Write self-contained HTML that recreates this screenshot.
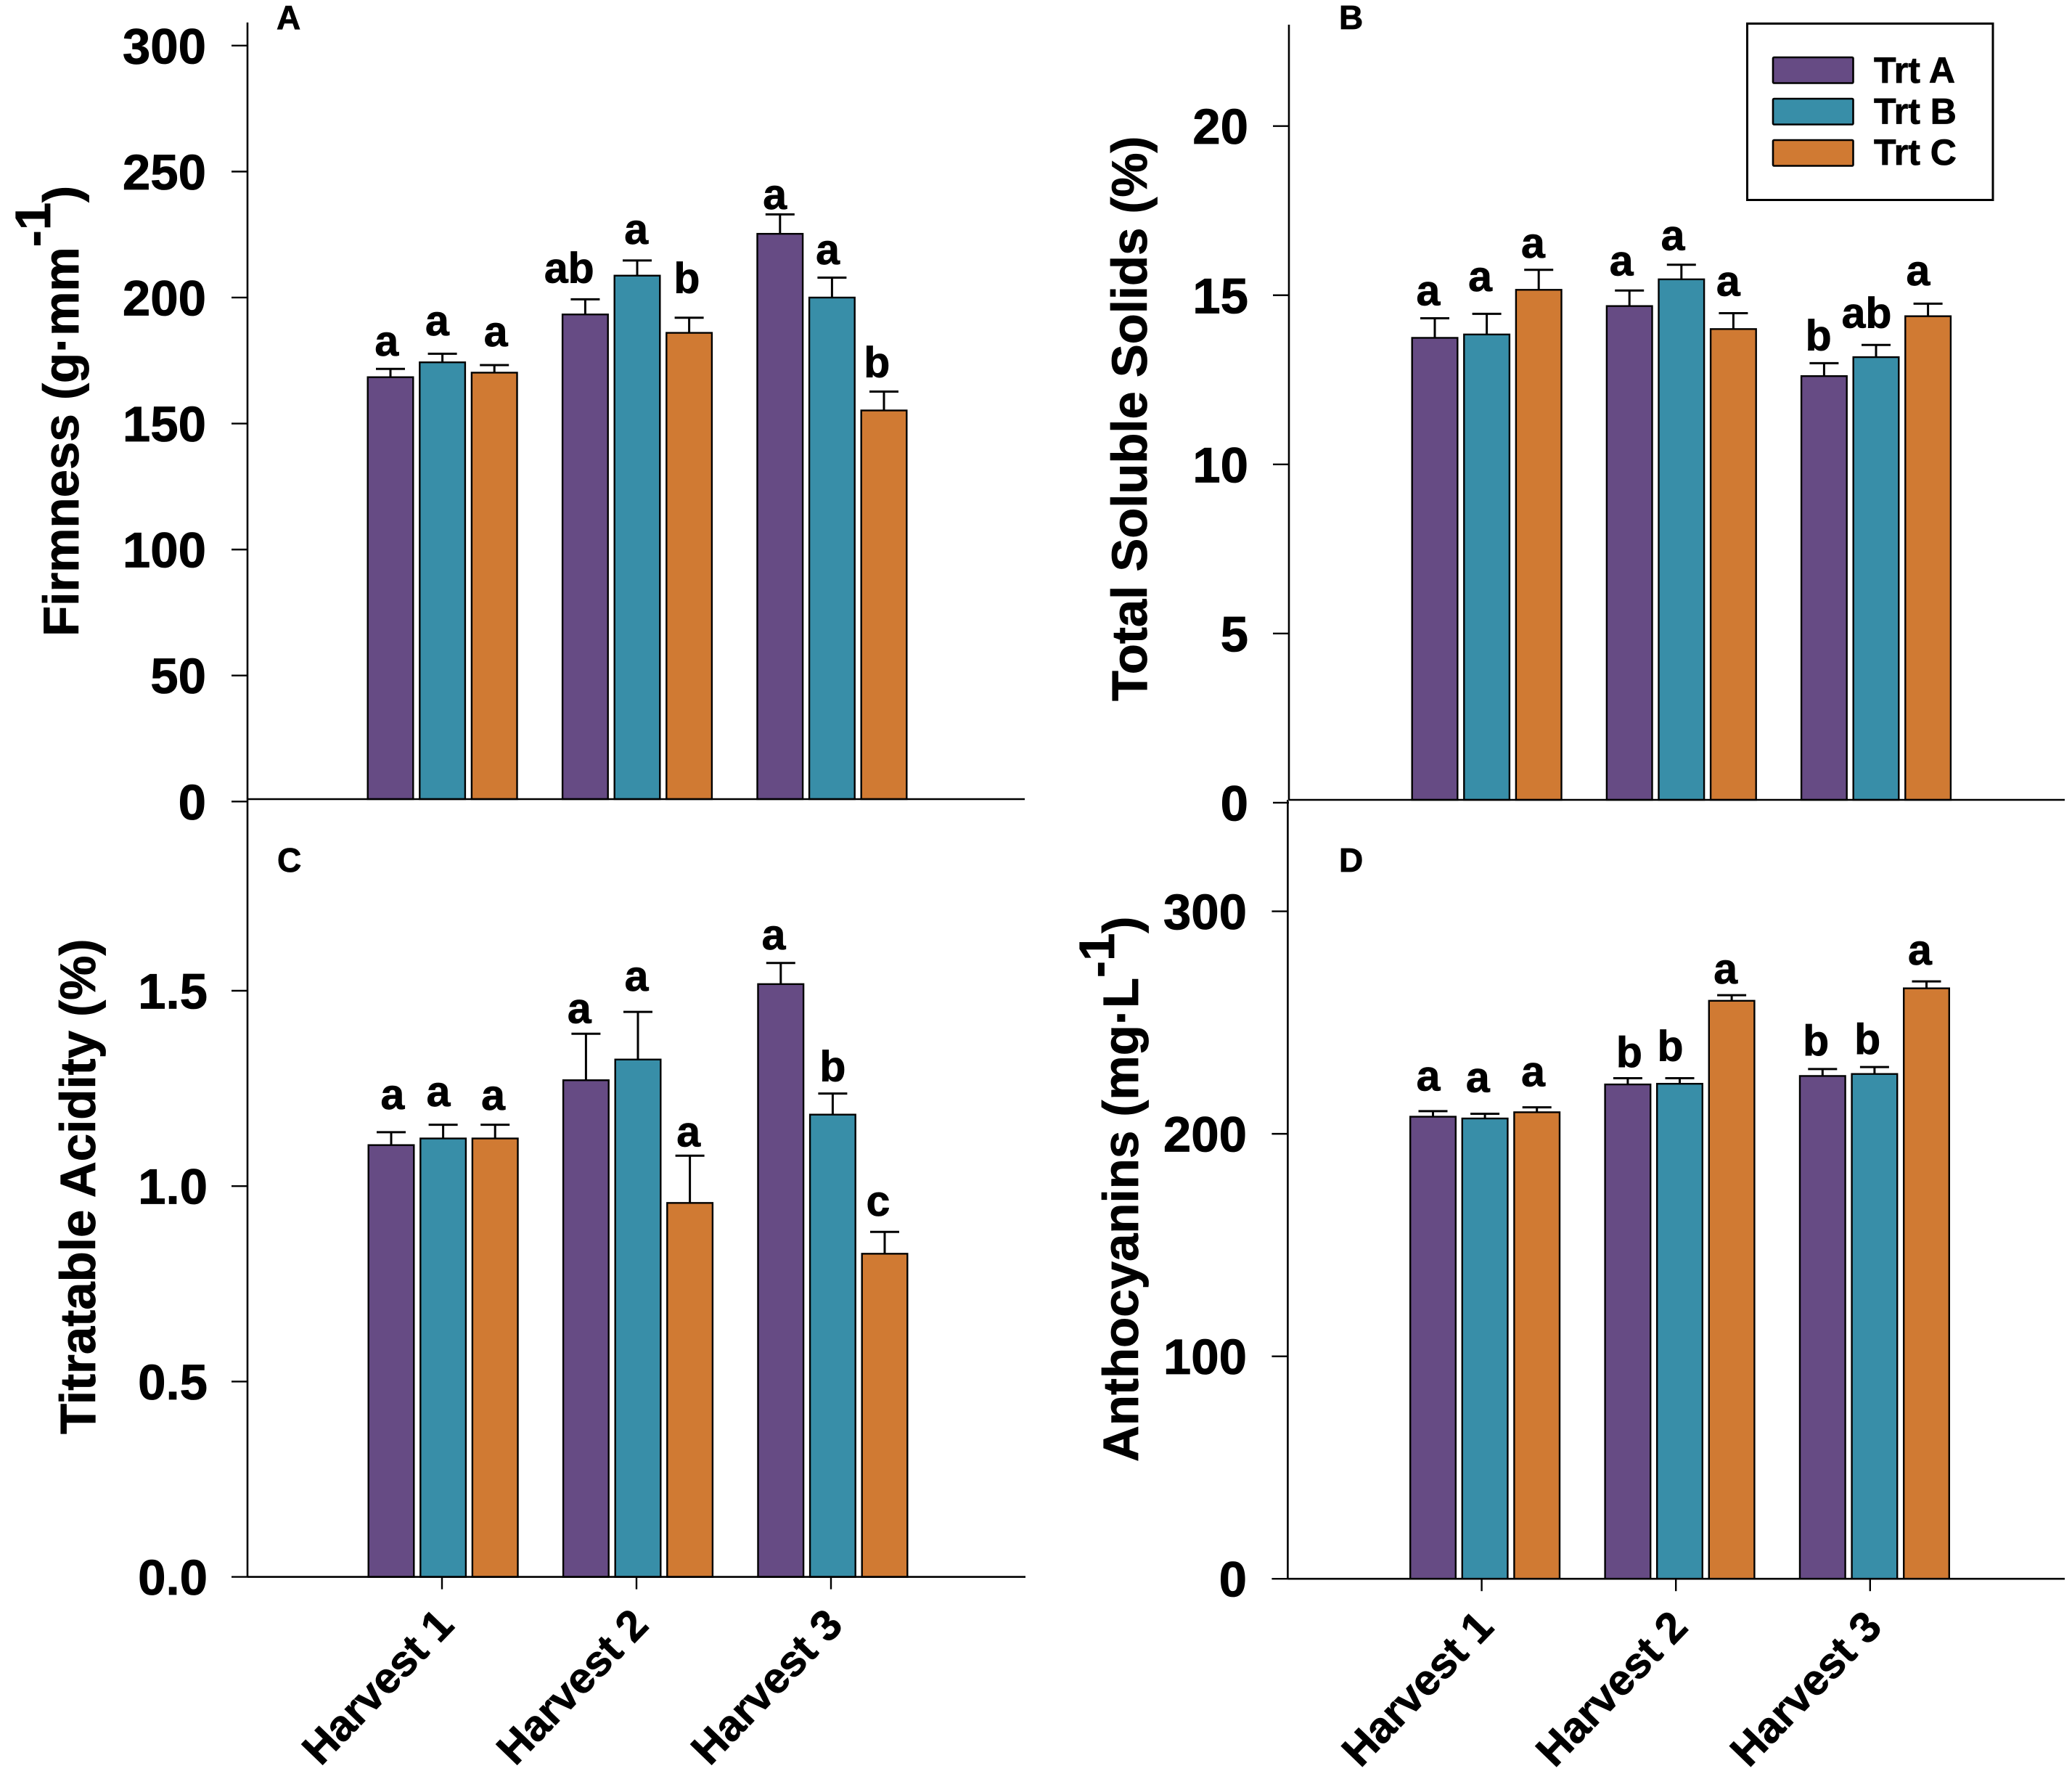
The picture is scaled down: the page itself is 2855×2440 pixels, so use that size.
<!DOCTYPE html>
<html lang="en">
<head>
<meta charset="utf-8">
<title>Fruit quality by harvest and treatment</title>
<style>
html,body{margin:0;padding:0;background:#fff;}
svg{display:block;font-family:"Liberation Sans",Arial,sans-serif;font-weight:bold;fill:#000;}
text{stroke:#000;stroke-width:0.8px;}
</style>
</head>
<body>
<svg id="chart" xmlns="http://www.w3.org/2000/svg" width="2855" height="2440" viewBox="0 0 2855 2440"></svg>
<script>
// ---- shared categories ----
const categories = ['Harvest 1', 'Harvest 2', 'Harvest 3'];
const treatments = ['Trt A', 'Trt B', 'Trt C'];

// ---- panel A: firmness ----
const firmnessTicks = [0, 50, 100, 150, 200, 250, 300];
const firmnessTrtA = [168.4, 193.3, 225.3];
const firmnessTrtB = [174.3, 208.7, 200];
const firmnessTrtC = [170.2, 186, 155.2];
const firmnessErrA = [3.3, 6, 7.7];
const firmnessErrB = [3.4, 6, 7.9];
const firmnessErrC = [3, 6, 7.5];
const firmnessLetterOrder = ['a', 'a', 'a', 'ab', 'a', 'b', 'a', 'a', 'b'];
const firmnessLetterLift = [5.3, 7.3, 7.5, 6.6, 6.6, 9.9, 2.2, 5.3, 5.7];
const firmnessLetterShift = [-0.08, -0.11, 0.03, -0.34, -0.02, -0.05, -0.11, -0.09, -0.15];

// ---- panel B: total soluble solids ----
const solidsTicks = [0, 5, 10, 15, 20];
const solidsTrtA = [13.74, 14.68, 12.61];
const solidsTrtB = [13.84, 15.47, 13.17];
const solidsTrtC = [15.16, 14.0, 14.38];
const solidsErrA = [0.58, 0.46, 0.38];
const solidsErrB = [0.61, 0.43, 0.36];
const solidsErrC = [0.59, 0.47, 0.37];
const solidsLetterOrder = ['a', 'a', 'a', 'a', 'a', 'a', 'b', 'ab', 'a'];
const solidsLetterLift = [0.39, 0.67, 0.36, 0.44, 0.44, 0.51, 0.39, 0.51, 0.54];
const solidsLetterShift = [-0.14, -0.14, -0.12, -0.17, -0.18, -0.11, -0.12, -0.2, -0.21];

// ---- panel C: titratable acidity ----
const acidityTicks = ['0.0', '0.5', '1.0', '1.5'];
const acidityTrtA = [1.105, 1.271, 1.517];
const acidityTrtB = [1.122, 1.324, 1.183];
const acidityTrtC = [1.122, 0.957, 0.827];
const acidityErrA = [0.033, 0.119, 0.054];
const acidityErrB = [0.035, 0.122, 0.054];
const acidityErrC = [0.035, 0.121, 0.056];
const acidityLetterOrder = ['a', 'a', 'a', 'a', 'a', 'a', 'a', 'b', 'c'];
const acidityLetterLift = [0.059, 0.048, 0.038, 0.027, 0.054, 0.024, 0.035, 0.032, 0.041];
const acidityLetterShift = [0.03, -0.1, -0.04, -0.14, -0.03, -0.03, -0.15, 0, -0.14];

// ---- panel D: anthocyanins ----
const anthoTicks = [0, 100, 200, 300];
const anthoTrtA = [207.7, 222.2, 226];
const anthoTrtB = [206.9, 222.5, 226.9];
const anthoTrtC = [209.7, 259.8, 265.4];
const anthoErrA = [2.5, 2.8, 3.1];
const anthoErrB = [2.1, 2.5, 3.1];
const anthoErrC = [2.2, 2.5, 3.1];
const anthoLetterOrder = ['a', 'a', 'a', 'b', 'b', 'a', 'b', 'b', 'a'];
const anthoLetterLift = [9.2, 9.8, 9.5, 5, 7.8, 5.3, 6.1, 5.9, 7.5];
const anthoLetterShift = [-0.1, -0.15, -0.08, 0.03, -0.2, -0.13, -0.14, -0.15, -0.14];

const svg = document.getElementById('chart');
const NS = 'http://www.w3.org/2000/svg';
const treatmentColors = ['#664B84', '#388EA8', '#D07A33'];

function mk(tag, attrs, parent) {
  const el = document.createElementNS(NS, tag);
  for (const k in attrs) el.setAttribute(k, attrs[k]);
  (parent || svg).appendChild(el);
  return el;
}

function drawPanel(p) {
  const y = v => p.zeroY - (Number(v) - p.domain[0]) / (p.domain[1] - p.domain[0]) * (p.zeroY - p.topY);
  const barLeft = (g, s) => p.firstBar + g * p.groupPitch + s * p.barPitch;
  const barWidth = 65;

  const group = mk('g', {});
  
  

  // bars, error bars, letters
  p.series.forEach((vals, s) => {
    vals.forEach((v, g) => {
      const idx = g * 3 + s;
      const cx = barLeft(g, s) + barWidth / 2;

      const bar = mk('rect', {
        x: barLeft(g, s) + 1.2, y: y(v), width: barWidth - 2.4,
        height: Math.max(0, p.baseY - y(v)),
        fill: treatmentColors[s], stroke: '#000', 'stroke-width': 2.4
      }, group);
      
      

      const top = y(v + p.errs[s][g]);
      const stem = mk('line', { x1: cx, x2: cx, y1: y(v), y2: top, stroke: '#000', 'stroke-width': 3 }, group);
      
      

      const cap = mk('line', { x1: cx - 20, x2: cx + 20, y1: top, y2: top, stroke: '#000', 'stroke-width': 3 }, group);
      
      

      const letter = mk('text', {
        x: cx + p.shifts[idx] * barWidth,
        y: y(v + p.errs[s][g] + p.lifts[idx]),
        'text-anchor': 'middle', 'font-size': 59
      }, group);
      letter.textContent = p.letters[idx];
      
      
    });
  });

  // y axis
  const yAxis = mk('line', { x1: p.axisX, x2: p.axisX, y1: p.axisTop, y2: p.axisBottom, stroke: '#000', 'stroke-width': 2.6 }, group);
  
  

  // x axis
  const xAxis = mk('line', { x1: p.axisX, x2: p.axisRight, y1: p.baseY, y2: p.baseY, stroke: '#000', 'stroke-width': 2.6 }, group);
  
  

  // y ticks
  p.ticks.forEach(t => {
    const tick = mk('line', { x1: p.axisX - 22, x2: p.axisX, y1: y(t), y2: y(t), stroke: '#000', 'stroke-width': 2.4 }, group);
    
    

    const label = mk('text', { x: p.tickLabelX, y: y(t) + 24.5, 'text-anchor': 'end', 'font-size': 69 }, group);
    label.textContent = t;
    
    
  });

  // x ticks + labels
  if (p.showX) {
    categories.forEach((c, g) => {
      const tx = p.xTickStart + g * p.xTickPitch;
      const tick = mk('line', { x1: tx, x2: tx, y1: p.baseY, y2: p.baseY + 17, stroke: '#000', 'stroke-width': 2.4 }, group);
      
      

      const lx = tx + 19, ly = p.baseY + 69;
      const label = mk('text', {
        x: lx, y: ly, 'text-anchor': 'end', 'font-size': 59.5,
        transform: 'rotate(-46 ' + lx + ' ' + ly + ')'
      }, group);
      label.textContent = c;
      
      
    });
  }

  // panel letter
  const tag = mk('text', { x: p.tagX, y: p.tagY, 'font-size': 46 }, group);
  tag.textContent = p.id;
  
  

  // axis title
  const title = mk('text', {
    x: p.titleX, y: p.titleY, 'font-size': p.titleSize,
    transform: 'rotate(-90 ' + p.titleX + ' ' + p.titleY + ')'
  }, group);
  
  
  title.appendChild(document.createTextNode(p.title));
  if (p.sup) {
    const sup = mk('tspan', { dy: -p.supRaise }, title);
    sup.textContent = p.sup;
    const close = mk('tspan', { dy: p.supRaise }, title);
    close.textContent = ')';
  }
}

drawPanel({
  id: 'A', ticks: firmnessTicks, domain: [0, 300], zeroY: 1104.3, topY: 62.8, baseY: 1101,
  axisX: 341, axisTop: 31, axisBottom: 1101, axisRight: 1412,
  series: [firmnessTrtA, firmnessTrtB, firmnessTrtC], errs: [firmnessErrA, firmnessErrB, firmnessErrC],
  letters: firmnessLetterOrder, lifts: firmnessLetterLift, shifts: firmnessLetterShift,
  firstBar: 505.5, barPitch: 71.6, groupPitch: 268.4, tickLabelX: 284, showX: false,
  tagX: 381, tagY: 40, title: 'Firmness (g\u00B7mm', sup: '-1', supRaise: 39,
  titleX: 108, titleY: 877, titleSize: 69
});
drawPanel({
  id: 'B', ticks: solidsTicks, domain: [0, 20], zeroY: 1105.9, topY: 173.7, baseY: 1102,
  axisX: 1776, axisTop: 34, axisBottom: 1102, axisRight: 2845,
  series: [solidsTrtA, solidsTrtB, solidsTrtC], errs: [solidsErrA, solidsErrB, solidsErrC],
  letters: solidsLetterOrder, lifts: solidsLetterLift, shifts: solidsLetterShift,
  firstBar: 1944.5, barPitch: 71.6, groupPitch: 268.2, tickLabelX: 1720, showX: false,
  tagX: 1845, tagY: 40, title: 'Total Soluble Solids (%)',
  titleX: 1580, titleY: 966, titleSize: 68.8
});
drawPanel({
  id: 'C', ticks: acidityTicks, domain: [0, 1.5], zeroY: 2172.6, topY: 1365, baseY: 2172.6,
  axisX: 341, axisTop: 1101, axisBottom: 2172.6, axisRight: 1413,
  series: [acidityTrtA, acidityTrtB, acidityTrtC], errs: [acidityErrA, acidityErrB, acidityErrC],
  letters: acidityLetterOrder, lifts: acidityLetterLift, shifts: acidityLetterShift,
  firstBar: 506.5, barPitch: 71.6, groupPitch: 268.4, tickLabelX: 286, showX: true,
  xTickStart: 609, xTickPitch: 268,
  tagX: 382, tagY: 1201, title: 'Titratable Acidity (%)',
  titleX: 131, titleY: 1976, titleSize: 69
});
drawPanel({
  id: 'D', ticks: anthoTicks, domain: [0, 300], zeroY: 2175.2, topY: 1255.6, baseY: 2175.2,
  axisX: 1774.4, axisTop: 1102, axisBottom: 2175.2, axisRight: 2845,
  series: [anthoTrtA, anthoTrtB, anthoTrtC], errs: [anthoErrA, anthoErrB, anthoErrC],
  letters: anthoLetterOrder, lifts: anthoLetterLift, shifts: anthoLetterShift,
  firstBar: 1942, barPitch: 71.6, groupPitch: 268.4, tickLabelX: 1718, showX: true,
  xTickStart: 2041.6, xTickPitch: 267.6,
  tagX: 1845, tagY: 1201, title: 'Anthocyanins (mg\u00B7L', sup: '-1', supRaise: 33,
  titleX: 1568, titleY: 2014, titleSize: 69
});

// legend
const legend = mk('g', {});



const legendBox = mk('rect', { x: 2407.5, y: 32.5, width: 338.5, height: 243, fill: '#fff', stroke: '#000', 'stroke-width': 3 }, legend);



treatments.forEach((t, i) => {
  const sw = mk('rect', {
    x: 2443, y: 79 + i * 57, width: 110.5, height: 35.5, rx: 1.5,
    fill: treatmentColors[i], stroke: '#000', 'stroke-width': 2.6
  }, legend);
  
  

  const lab = mk('text', { x: 2582, y: 114 + i * 56.6, 'font-size': 50 }, legend);
  lab.textContent = t;
  
  
});
</script>
</body>
</html>
